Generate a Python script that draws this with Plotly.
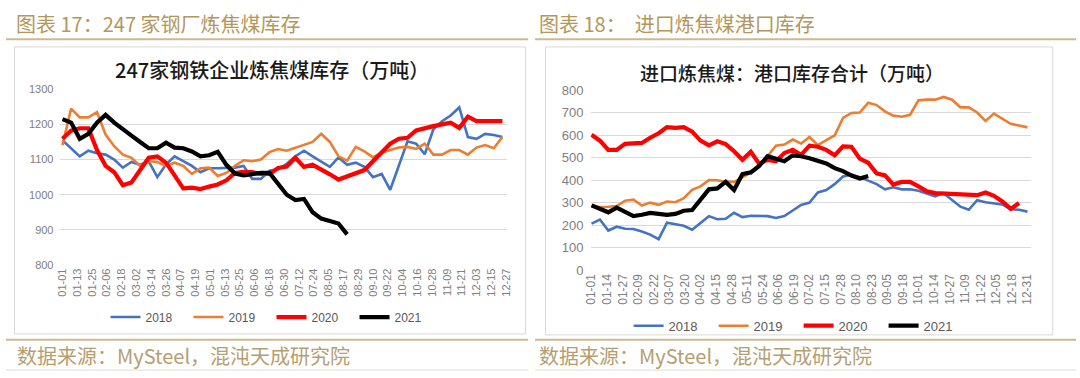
import pandas as pd
import plotly.graph_objects as go

# ---------------- data ----------------
left_ticks = ["01-01", "01-13", "01-25", "02-06", "02-18", "03-02", "03-14", "03-26", "04-07", "04-19",
              "05-01", "05-13", "05-25", "06-06", "06-18", "06-30", "07-12", "07-24", "08-05", "08-17",
              "08-29", "09-10", "09-22", "10-04", "10-16", "10-28", "11-09", "11-21", "12-03", "12-15", "12-27"]
right_ticks = ["01-01", "01-14", "01-27", "02-09", "02-22", "03-07", "03-20", "04-02", "04-15", "04-28",
               "05-11", "05-24", "06-06", "06-19", "07-02", "07-15", "07-28", "08-10", "08-23", "09-05",
               "09-18", "10-01", "10-14", "10-27", "11-09", "11-22", "12-05", "12-18", "12-31"]

# 247 steel mills coking coal inventory (10k t), weekly
left_2018 = [1155, 1132, 1109, 1125, 1118, 1114, 1100, 1077, 1093, 1085, 1095, 1050, 1086, 1109, 1095, 1082,
             1064, 1075, 1075, 1077, 1077, 1082, 1045, 1045, 1068, 1072, 1088, 1109, 1125, 1109, 1095, 1079,
             1106, 1085, 1091, 1079, 1050, 1059, 1014, 1082, 1152, 1145, 1115, 1186, 1209, 1225, 1248, 1164,
             1159, 1173, 1170, 1164]
left_2019 = [1141, 1245, 1220, 1220, 1235, 1171, 1138, 1114, 1105, 1082, 1095, 1093, 1082, 1091, 1082, 1059,
             1075, 1077, 1053, 1062, 1082, 1098, 1095, 1100, 1121, 1130, 1125, 1134, 1143, 1150, 1173, 1150,
             1109, 1097, 1136, 1123, 1106, 1120, 1127, 1134, 1136, 1130, 1145, 1114, 1114, 1127, 1127, 1114,
             1134, 1141, 1132, 1164]
left_2020 = [1159, 1182, 1189, 1189, 1127, 1082, 1064, 1027, 1035, 1071, 1105, 1109, 1091, 1055, 1018, 1020,
             1016, 1023, 1029, 1041, 1062, 1065, 1064, 1059, 1059, 1076, 1080, 1105, 1079, 1085, 1073, 1058,
             1043, 1052, 1058, 1070, 1095, 1120, 1145, 1159, 1162, 1183, 1190, 1195, 1200, 1205, 1190, 1222,
             1209, 1209, 1209, 1209]
left_2021 = [1215, 1205, 1159, 1173, 1205, 1227, 1205, 1185, 1168, 1150, 1132, 1132, 1148, 1134, 1132, 1123,
             1109, 1112, 1122, 1085, 1060, 1055, 1058, 1062, 1062, 1030, 1000, 985, 988, 950, 932, 925, 918, 887]

# imported coking coal port inventory (10k t), weekly
right_2018 = [207, 225, 176, 193, 184, 183, 172, 158, 138, 211, 204, 197, 180, 210, 240, 226, 228, 255, 236,
              242, 242, 240, 232, 240, 265, 290, 300, 345, 356, 382, 416, 424, 413, 399, 382, 359, 368, 359,
              359, 353, 342, 328, 342, 311, 282, 268, 311, 302, 296, 292, 271, 268, 260]
right_2019 = [285, 280, 282, 285, 308, 313, 287, 300, 290, 305, 302, 320, 357, 372, 400, 399, 393, 392, 412,
              434, 465, 506, 553, 558, 580, 562, 591, 555, 577, 598, 676, 698, 700, 743, 733, 705, 686, 681,
              690, 754, 757, 757, 769, 757, 723, 723, 700, 662, 695, 672, 650, 642, 634]
right_2020 = [601, 575, 534, 534, 561, 564, 565, 588, 608, 635, 632, 635, 615, 575, 554, 572, 560, 528, 490,
              526, 472, 490, 484, 520, 534, 512, 553, 548, 534, 510, 550, 548, 495, 477, 430, 421, 380, 392,
              392, 372, 350, 342, 341, 339, 336, 334, 333, 345, 330, 305, 272, 298]
right_2021 = [288, 274, 257, 278, 257, 240, 246, 254, 250, 246, 250, 264, 267, 314, 359, 363, 392, 356, 427,
              434, 463, 506, 496, 484, 510, 506, 497, 486, 474, 453, 440, 420, 407, 418]

series_names = ["2018", "2019", "2020", "2021"]
colors = ["#4472C4", "#ED7D31", "#FF0000", "#000000"]
widths = [2.6, 2.6, 4.2, 4.2]

YEAR = "2021-"
weeks = pd.date_range("2021-01-01", periods=53, freq="7D")

fig = go.Figure()

left_data = [left_2018, left_2019, left_2020, left_2021]
right_data = [right_2018, right_2019, right_2020, right_2021]

for name, vals, c, w in zip(series_names, left_data, colors, widths):
    fig.add_trace(go.Scatter(x=weeks[:len(vals)], y=vals, mode="lines", name=name,
                             line=dict(color=c, width=w), xaxis="x", yaxis="y",
                             legend="legend", hoverinfo="skip"))
for name, vals, c, w in zip(series_names, right_data, colors, widths):
    fig.add_trace(go.Scatter(x=weeks[:len(vals)], y=vals, mode="lines", name=name,
                             line=dict(color=c, width=w), xaxis="x2", yaxis="y2",
                             legend="legend2", hoverinfo="skip"))

W, H = 1080, 378
grid = "#D9D9D9"
tick_gray = "#808080"
num_font = "Liberation Sans, Arial, sans-serif"
cjk = "Noto Sans CJK SC"
gold = "#B4975A"


def px(x):
    return x / W


def py(y):
    return (H - y) / H


axis_common = dict(showline=False, zeroline=False, ticks="", fixedrange=True)

fig.update_layout(
    width=W, height=H, autosize=False,
    margin=dict(l=0, r=0, t=0, b=0),
    paper_bgcolor="white", plot_bgcolor="white",
    xaxis=dict(domain=[px(55), px(506)], type="date",
               range=["2020-12-30 09:20", "2021-12-28 00:00"],
               tickmode="array", tickvals=[YEAR + t for t in left_ticks], ticktext=left_ticks,
               tickangle=-90, tickfont=dict(size=11, color=tick_gray, family=num_font),
               showgrid=False, anchor="y", **axis_common),
    yaxis=dict(domain=[py(268.3), py(85)], range=[799, 1301], dtick=100, tick0=800,
               showgrid=True, gridcolor=grid, gridwidth=1,
               tickfont=dict(size=11, color=tick_gray, family=num_font),
               anchor="x", ticklabelstandoff=6, **axis_common),
    xaxis2=dict(domain=[px(590), px(1035)], type="date",
                range=["2020-12-31 04:00", "2022-01-03 07:00"],
                tickmode="array", tickvals=[YEAR + t for t in right_ticks], ticktext=right_ticks,
                tickangle=-90, tickfont=dict(size=12, color=tick_gray, family=num_font),
                showgrid=False, anchor="y2", **axis_common),
    yaxis2=dict(domain=[py(273.8), py(85.7)], range=[-2, 802], dtick=100, tick0=0,
                showgrid=True, gridcolor=grid, gridwidth=1,
                tickfont=dict(size=13, color=tick_gray, family=num_font),
                anchor="x2", ticklabelstandoff=6, **axis_common),
    legend=dict(orientation="h", x=px(268), xanchor="center", y=py(322), yanchor="middle",
                font=dict(size=12, color="#595959", family=num_font),
                entrywidth=38, entrywidthmode="pixels", bgcolor="rgba(0,0,0,0)",
                itemclick=False, itemdoubleclick=False),
    legend2=dict(orientation="h", x=px(800), xanchor="center", y=py(331), yanchor="middle",
                 font=dict(size=13, color="#595959", family=num_font),
                 entrywidth=40, entrywidthmode="pixels", bgcolor="rgba(0,0,0,0)",
                 itemclick=False, itemdoubleclick=False),
    showlegend=True,
)

shapes = []
# chart frames
shapes.append(dict(type="rect", xref="paper", yref="paper", x0=px(8.5), x1=px(524.5),
                   y0=py(339.5), y1=py(41.5), line=dict(color="#D9D9D9", width=1)))
shapes.append(dict(type="rect", xref="paper", yref="paper", x0=px(544.5), x1=px(1056.5),
                   y0=py(340.5), y1=py(41.5), line=dict(color="#D9D9D9", width=1)))
# header underline / footer lines
for (a, b) in [(0, 527), (534, 1080)]:
    shapes.append(dict(type="line", xref="paper", yref="paper", x0=px(a), x1=px(b),
                       y0=py(33.5), y1=py(33.5), line=dict(color="#CDB991", width=2)))
    shapes.append(dict(type="line", xref="paper", yref="paper", x0=px(a), x1=px(b),
                       y0=py(345.5), y1=py(345.5), line=dict(color="#CDB991", width=2)))
    shapes.append(dict(type="line", xref="paper", yref="paper", x0=px(a), x1=px(b),
                       y0=py(377), y1=py(377), line=dict(color="#E6DDCB", width=1)))
fig.update_layout(shapes=shapes)

annotations = [
    dict(text="图表 17：247 家钢厂炼焦煤库存", x=px(8), y=py(17), xanchor="left", yanchor="middle",
         font=dict(family=cjk, size=20, color=gold)),
    dict(text="图表 18：  进口炼焦煤港口库存", x=px(536), y=py(17), xanchor="left", yanchor="middle",
         font=dict(family=cjk, size=20, color=gold)),
    dict(text="247家钢铁企业炼焦煤库存（万吨）", x=px(268.5), y=py(65), xanchor="center", yanchor="middle",
         font=dict(family=cjk, size=20, color="#1A1A1A", weight=500)),
    dict(text="进口炼焦煤：港口库存合计（万吨）", x=px(793.5), y=py(67.5), xanchor="center", yanchor="middle",
         font=dict(family=cjk, size=19, color="#1A1A1A", weight=500)),
    dict(text="数据来源：MySteel，混沌天成研究院", x=px(9), y=py(362), xanchor="left", yanchor="middle",
         font=dict(family=cjk, size=20, color="#B59E70")),
    dict(text="数据来源：MySteel，混沌天成研究院", x=px(536), y=py(362), xanchor="left", yanchor="middle",
         font=dict(family=cjk, size=20, color="#B59E70")),
]
for a in annotations:
    a.update(xref="paper", yref="paper", showarrow=False)
fig.update_layout(annotations=annotations)

fig.write_html("out.html", config={"displayModeBar": False, "staticPlot": True},
               post_script="document.body.style.margin='0';document.body.style.overflow='hidden';")
